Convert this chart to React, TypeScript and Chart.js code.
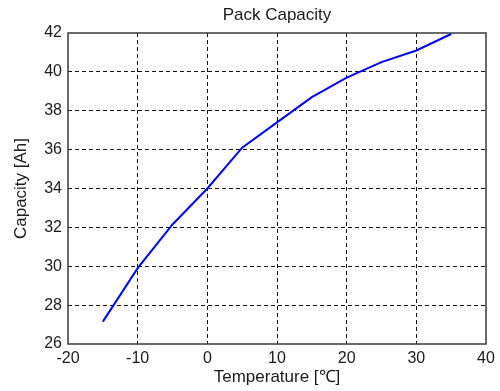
import React, { useEffect, useRef } from "react";
import { Chart, registerables } from "chart.js";

Chart.register(...registerables);

const temperatures = [-15, -10, -5, 0, 5, 10, 15, 20, 25, 30, 35];
const capacities = [27.15, 29.9, 32.15, 34.0, 36.1, 37.4, 38.7, 39.7, 40.5, 41.1, 41.95];

const titleText = "Pack Capacity";
const xTitle = "Temperature [℃]";
const yTitle = "Capacity [Ah]";

const X_MIN = -20;
const X_MAX = 40;
const Y_MIN = 26;
const Y_MAX = 42;

const FONT = "'Liberation Sans', Arial, sans-serif";
const TEXT = "#1a1a1a";

const boxPlugin = {
  id: "boxFrame",
  beforeDatasetsDraw(chart: any) {
    const { ctx, chartArea } = chart;
    ctx.save();
    ctx.strokeStyle = "#3a3a3a";
    ctx.lineWidth = 1.5;
    ctx.setLineDash([]);
    ctx.strokeRect(
      chartArea.left,
      chartArea.top,
      chartArea.right - chartArea.left,
      chartArea.bottom - chartArea.top
    );
    ctx.restore();
  },
};

export default function App() {
  const ref = useRef<HTMLCanvasElement | null>(null);

  useEffect(() => {
    if (!ref.current) return;
    const chart = new Chart(ref.current, {
      type: "line",
      data: {
        datasets: [
          {
            data: temperatures.map((t, i) => ({ x: t, y: capacities[i] })),
            borderColor: "#0000ff",
            borderWidth: 2,
            pointRadius: 0,
            tension: 0,
            fill: false,
          },
        ],
      },
      options: {
        animation: false,
        responsive: false,
        maintainAspectRatio: false,
        layout: { padding: { left: 0, right: 14, top: 0, bottom: 0 } },
        plugins: {
          legend: { display: false },
          title: { display: false },
          tooltip: { enabled: false },
        },
        scales: {
          x: {
            type: "linear",
            position: "bottom",
            min: X_MIN,
            max: X_MAX,
            ticks: {
              stepSize: 10,
              color: TEXT,
              font: { family: FONT, size: 16 },
              padding: 5,
              maxRotation: 0,
            },
            grid: {
              drawTicks: false,
              color: (c: any) =>
                c.tick && (c.tick.value === X_MIN || c.tick.value === X_MAX)
                  ? "rgba(0,0,0,0)"
                  : "#111",
              lineWidth: 1,
            },
            border: { display: false, dash: [4, 3] },
            title: {
              display: true,
              text: xTitle,
              color: TEXT,
              font: { family: FONT, size: 17 },
              padding: { top: 0, bottom: 3.5 },
            },
            afterFit: (s: any) => {
              s.height = 47;
            },
          },
          x2: {
            type: "linear",
            position: "top",
            min: X_MIN,
            max: X_MAX,
            ticks: { display: false },
            grid: { display: false, drawTicks: false },
            border: { display: false },
            title: {
              display: true,
              text: titleText,
              color: TEXT,
              font: { family: FONT, size: 17 },
              padding: { top: 5, bottom: 0 },
            },
            afterFit: (s: any) => {
              s.height = 33;
            },
          },
          y: {
            type: "linear",
            position: "left",
            min: Y_MIN,
            max: Y_MAX,
            ticks: {
              stepSize: 2,
              color: TEXT,
              font: { family: FONT, size: 16 },
              padding: 6,
            },
            grid: {
              drawTicks: false,
              color: (c: any) =>
                c.tick && (c.tick.value === Y_MIN || c.tick.value === Y_MAX)
                  ? "rgba(0,0,0,0)"
                  : "#111",
              lineWidth: 1,
            },
            border: { display: false, dash: [4, 3] },
            title: {
              display: true,
              text: yTitle,
              color: TEXT,
              font: { family: FONT, size: 17 },
              padding: { top: 11, bottom: 0 },
            },
            afterFit: (s: any) => {
              s.width = 68;
            },
          },
        },
      } as any,
      plugins: [boxPlugin],
    });
    return () => chart.destroy();
  }, []);

  return (
    <div style={{ position: "absolute", left: 0, top: 0, width: 500, height: 391, background: "#fff" }}>
      <canvas ref={ref} width={500} height={391} style={{ display: "block" }} />
    </div>
  );
}
